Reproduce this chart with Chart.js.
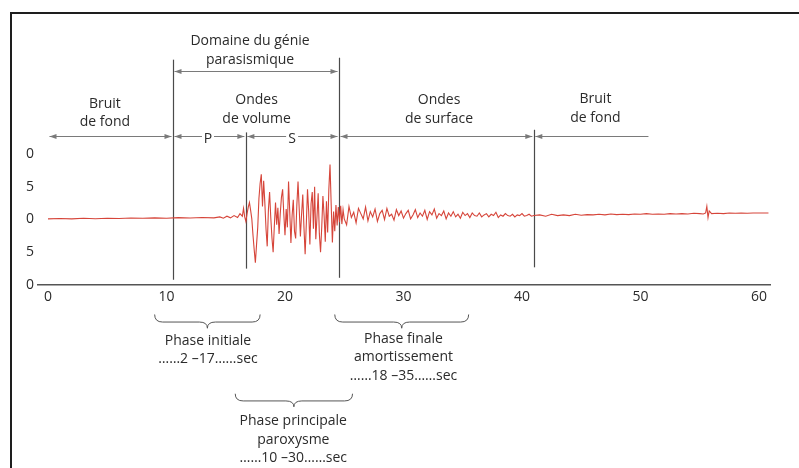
<!DOCTYPE html>
<html lang="fr">
<head>
<meta charset="utf-8">
<title>Sismogramme</title>
<script src="https://cdn.jsdelivr.net/npm/chart.js@4.4.1/dist/chart.umd.min.js"></script>
<style>
  html, body { margin: 0; padding: 0; background: #fff; overflow: hidden; }
  #wrap { position: relative; width: 799px; height: 468px; overflow: hidden; }
  #frame { position: absolute; left: 10px; top: 12px; width: 800px; height: 470px;
           border-left: 2px solid #1e1e1e; border-top: 2px solid #1e1e1e; }
</style>
</head>
<body>
<div id="wrap"><div id="frame"></div><canvas id="seismo"></canvas></div>
<script>
// tick labels
const xTickValues = [0, 10, 20, 30, 40, 50, 60];
const yTickValues = [-10, -5, 0, 5, 10];
const yTickLabels = ['0', '5', '0', '5', '0'];

// bruit de fond avant le séisme
const quietT = [0, 1, 2, 3, 4, 5, 6, 7, 8, 9, 10, 11, 12, 13, 14,
  14.5, 14.8, 15.1, 15.4, 15.7, 16.0, 16.2, 16.4];
const quietV = [0.1, 0.15, 0.1, 0.18, 0.12, 0.2, 0.15, 0.22, 0.18, 0.25, 0.2, 0.28, 0.22, 0.3, 0.25,
  0.4, 0.2, 0.5, 0.25, 0.6, 0.3, 0.9, 0.5];

// ondes de volume (P puis S)
const mainT = [
  16.5, 16.6, 16.7, 16.8, 16.9, 17.0, 17.1, 17.2, 17.3, 17.4,
  17.5, 17.6, 17.7, 17.8, 17.9, 18.0, 18.1, 18.2, 18.3, 18.4,
  18.5, 18.6, 18.7, 18.8, 18.9, 19.0, 19.1, 19.2, 19.3, 19.4,
  19.5, 19.6, 19.7, 19.8, 19.9, 20.0, 20.1, 20.2, 20.3, 20.4,
  20.5, 20.6, 20.7, 20.8, 20.9, 21.0, 21.1, 21.2, 21.3, 21.4,
  21.5, 21.6, 21.7, 21.8, 21.9, 22.0, 22.1, 22.2, 22.3, 22.4,
  22.5, 22.6, 22.7, 22.8, 22.9, 23.0, 23.1, 23.2, 23.3, 23.4,
  23.5, 23.6, 23.7, 23.8, 23.9, 24.0, 24.1, 24.2, 24.3, 24.4,
  24.5, 24.6, 24.7, 24.8, 24.9, 25.0];
const mainV = [
  1.7, 0.4, -0.3, 0.9, 1.9, 2.6, 1.4, 0.1, -2.4, -4.6,
  -6.6, -3.8, -1.2, 3.2, 5.5, 6.9, 2.0, 5.9, 2.5, -1.5,
  -4.1, 1.5, 4.2, 0.3, -2.8, -5.0, -1.0, 2.6, -0.8, 1.8,
  -2.2, 0.9, 3.4, 4.6, 0.8, -2.4, 1.6, -1.2, 5.8, 1.2,
  -3.6, 0.6, 3.0, -1.8, -2.9, 2.2, 5.8, 1.6, -2.6, 0.8,
  3.8, -1.2, -5.3, -0.6, 4.6, 1.2, -3.8, 2.4, 4.2, -1.4,
  5.0, -3.0, 0.4, 4.0, -2.2, -5.0, -1.2, 3.6, 0.6, -3.4,
  2.8, -2.0, 4.6, 8.4, 2.2, -3.5, 1.2, -1.8, 2.2, -0.9,
  1.9, -0.4, 2.1, -0.7, 1.5, 0.1];

// ondes de surface
const codaT = [
  25.2, 25.4, 25.6, 25.8, 26.0, 26.2, 26.4, 26.6, 26.8, 27.0,
  27.2, 27.4, 27.6, 27.8, 28.0, 28.2, 28.4, 28.6, 28.8, 29.0,
  29.2, 29.4, 29.6, 29.8, 30.0, 30.2, 30.4, 30.6, 30.8, 31.0,
  31.2, 31.4, 31.6, 31.8, 32.0, 32.2, 32.4, 32.6, 32.8, 33.0,
  33.2, 33.4, 33.6, 33.8, 34.0, 34.2, 34.4, 34.6, 34.8, 35.0,
  35.2, 35.4, 35.6, 35.8, 36.0, 36.2, 36.4, 36.6, 36.8, 37.0,
  37.2, 37.4, 37.6, 37.8, 38.0, 38.2, 38.4, 38.6, 38.8, 39.0,
  39.2, 39.4, 39.6, 39.8, 40.0, 40.2, 40.4, 40.6, 40.8, 41.0];
const codaV = [
  -0.8, 2.0, 0.3, 1.1, -0.5, 1.7, 0.9, 0.1, 1.9, -0.2,
  1.2, 0.4, 1.6, -0.3, 0.9, 1.4, 0.0, 1.7, 0.5, 0.8,
  -0.1, 1.5, 0.6, 1.3, 0.2, 0.9, 1.4, 0.1, 0.7, 1.5,
  0.3, 1.0, 0.5, 1.4, 0.0, 1.2, 0.7, 1.6, 0.2, 0.9,
  0.6, 1.3, 0.1, 1.0, 0.5, 1.2, 0.4, 0.8, 0.2, 1.1,
  0.6, 0.9, 0.3, 1.0, 0.6, 0.5, 1.0, 0.4, 0.7, 0.9,
  0.4, 0.8, 0.6, 1.1, 0.3, 0.7, 0.5, 0.9, 0.6, 0.5,
  0.8, 0.4, 0.7, 0.6, 0.9, 0.5, 0.6, 0.8, 0.5, 0.6];

// bruit de fond après le séisme
const tailT = [
  41.5, 42, 42.5, 43, 43.5, 44, 44.5, 45, 45.5, 46,
  46.5, 47, 47.5, 48, 48.5, 49, 49.5, 50, 50.5, 51,
  51.5, 52, 52.5, 53, 53.5, 54, 54.5, 55, 55.3, 55.5,
  55.6, 55.7, 55.8, 56, 56.5, 57, 57.5, 58, 58.5, 59,
  59.5, 60, 60.8];
const tailV = [
  0.7, 0.5, 0.8, 0.6, 0.7, 0.6, 0.8, 0.65, 0.75, 0.7,
  0.8, 0.7, 0.85, 0.75, 0.8, 0.75, 0.85, 0.8, 0.9, 0.8,
  0.85, 0.8, 0.9, 0.85, 0.9, 0.85, 0.95, 0.9, 0.85, 1.0,
  2.0, 0.3, 1.3, 0.9, 0.95, 0.9, 1.0, 0.95, 1.0, 0.95,
  1.0, 1.0, 1.0];

const times = [...quietT, ...mainT, ...codaT, ...tailT];
const values = [...quietV, ...mainV, ...codaV, ...tailV];
const points = times.map((t, i) => ({ x: t, y: values[i] }));

const FONT = '14px "Open Sans", sans-serif';
const INK = '#2b2b2b';

// annotations, in axis units (seconds / amplitude)
const verticals = [
  { t: 10.55, top: 24.4, bottom: -9.2 },
  { t: 16.7, top: 13.3, bottom: -7.5 },
  { t: 24.56, top: 24.7, bottom: -8.9 },
  { t: 41.0, top: 13.7, bottom: -7.3 }
];
const ROW = 12.8;
const arrows = [
  { from: 10.55, to: 24.56, v: 22.6, left: true, right: true },
  { from: 0, to: 10.55, v: ROW, left: true, right: true },
  { from: 10.55, to: 16.7, v: ROW, left: true, right: true, label: 'P', at: 13.5 },
  { from: 16.7, to: 24.56, v: ROW, left: true, right: true, label: 'S', at: 20.6 },
  { from: 24.56, to: 41.0, v: ROW, left: true, right: true },
  { from: 41.0, to: 50.8, v: ROW, left: true, right: false }
];
const blocks = [
  { t: 17.05, v: 27.2, lines: ['Domaine du génie', 'parasismique'] },
  { t: 4.8, v: 17.7, lines: ['Bruit', 'de fond'] },
  { t: 17.6, v: 18.2, lines: ['Ondes', 'de volume'] },
  { t: 33.0, v: 18.2, lines: ['Ondes', 'de surface'] },
  { t: 46.2, v: 18.4, lines: ['Bruit', 'de fond'] },
  { t: 13.5, v: -18.5, lines: ['Phase initiale', '……2 –17……sec'] },
  { t: 30.0, v: -18.2, lines: ['Phase finale', 'amortissement', '……18 –35……sec'] },
  { t: 20.7, v: -30.8, lines: ['Phase principale', 'paroxysme', '……10 –30……sec'] }
];
const braces = [
  { from: 9.0, to: 17.9, top: -14.5, tip: -16.6 },
  { from: 24.2, to: 35.5, top: -14.5, tip: -16.6 },
  { from: 15.8, to: 25.7, top: -26.6, tip: -28.6 }
];

function head(ctx, x, y, dir) {
  ctx.beginPath();
  ctx.moveTo(x, y);
  ctx.lineTo(x - dir * 7, y - 2.5);
  ctx.lineTo(x - dir * 7, y + 2.5);
  ctx.closePath();
  ctx.fill();
}

function brace(ctx, x1, x2, yTop, yTip) {
  const xc = (x1 + x2) / 2;
  const ym = yTop + (yTip - yTop) * 0.55;
  ctx.beginPath();
  ctx.moveTo(x1, yTop);
  ctx.quadraticCurveTo(x1, ym, x1 + 8, ym);
  ctx.lineTo(xc - 8, ym);
  ctx.quadraticCurveTo(xc, ym, xc, yTip);
  ctx.quadraticCurveTo(xc, ym, xc + 8, ym);
  ctx.lineTo(x2 - 8, ym);
  ctx.quadraticCurveTo(x2, ym, x2, yTop);
  ctx.stroke();
}

const annotate = {
  id: 'annotate',
  beforeDatasetsDraw(chart) {
    const { ctx, scales: { x, y } } = chart;
    ctx.save();

    ctx.strokeStyle = '#4a4a4a';
    ctx.lineWidth = 1.2;
    verticals.forEach(l => {
      const px = Math.round(x.getPixelForValue(l.t)) + 0.5;
      ctx.beginPath();
      ctx.moveTo(px, y.getPixelForValue(l.top));
      ctx.lineTo(px, y.getPixelForValue(l.bottom));
      ctx.stroke();
    });

    ctx.strokeStyle = '#7a7a7a';
    ctx.fillStyle = '#7a7a7a';
    ctx.lineWidth = 1;
    arrows.forEach(a => {
      const x1 = x.getPixelForValue(a.from) + 1.5;
      const x2 = x.getPixelForValue(a.to) - 1.5;
      const py = Math.round(y.getPixelForValue(a.v)) + 0.5;
      ctx.beginPath();
      ctx.moveTo(x1, py);
      ctx.lineTo(x2, py);
      ctx.stroke();
      if (a.left) head(ctx, x1, py, -1);
      if (a.right) head(ctx, x2, py, 1);
    });

    ctx.font = FONT;
    ctx.textAlign = 'center';
    ctx.textBaseline = 'middle';
    arrows.filter(a => a.label).forEach(a => {
      const px = x.getPixelForValue(a.at);
      const py = y.getPixelForValue(a.v);
      ctx.fillStyle = '#fff';
      ctx.fillRect(px - 6, py - 7, 12, 14);
      ctx.fillStyle = INK;
      ctx.fillText(a.label, px, py + 3);
    });

    blocks.forEach(b => {
      const px = x.getPixelForValue(b.t);
      const py = y.getPixelForValue(b.v);
      ctx.fillStyle = INK;
      b.lines.forEach((s, i) => ctx.fillText(s, px, py + i * 18.6));
    });

    ctx.strokeStyle = '#555';
    ctx.lineWidth = 1;
    braces.forEach(b => {
      brace(ctx, x.getPixelForValue(b.from), x.getPixelForValue(b.to),
        y.getPixelForValue(b.top), y.getPixelForValue(b.tip));
    });

    ctx.restore();
  }
};

new Chart(document.getElementById('seismo'), {
  type: 'line',
  data: {
    datasets: [{
      data: points,
      borderColor: '#d6453a',
      borderWidth: 1.1,
      pointRadius: 0,
      tension: 0
    }]
  },
  options: {
    responsive: true,
    maintainAspectRatio: false,
    animation: false,
    events: [],
    layout: { padding: { left: 0, right: 29, top: 23, bottom: 153 } },
    plugins: { legend: { display: false }, tooltip: { enabled: false } },
    scales: {
      x: {
        type: 'linear',
        min: -0.844,
        max: 60.93,
        grid: { display: false, drawTicks: false },
        border: { display: true, color: '#555', width: 1.5 },
        afterBuildTicks: s => { s.ticks = xTickValues.map(v => ({ value: v })); },
        afterFit: s => { s.height = 30; },
        ticks: { color: INK, font: { family: 'Open Sans', size: 14 }, padding: 4, maxRotation: 0 }
      },
      y: {
        min: -10,
        max: 30,
        grid: { display: false, drawTicks: false },
        border: { display: false },
        afterBuildTicks: s => { s.ticks = yTickValues.map(v => ({ value: v })); },
        afterFit: s => { s.width = 38; },
        ticks: {
          color: INK,
          font: { family: 'Open Sans', size: 14 },
          padding: 4,
          callback: v => yTickLabels[yTickValues.indexOf(v)]
        }
      }
    }
  },
  plugins: [annotate]
});
</script>
</body>
</html>
